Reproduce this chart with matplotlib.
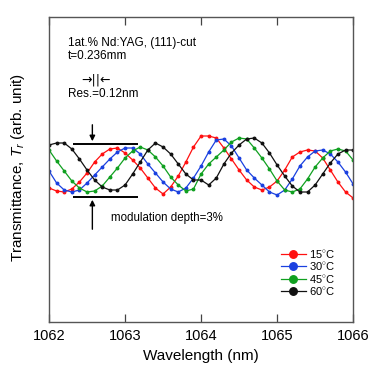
import numpy as np
import matplotlib
matplotlib.use('Agg')
import matplotlib.pyplot as plt

plt.rcParams['font.family'] = ['Liberation Sans', 'DejaVu Sans']
plt.rcParams['mathtext.fontset'] = 'custom'
plt.rcParams['mathtext.it'] = 'Liberation Sans:italic'
plt.rcParams['mathtext.rm'] = 'Liberation Sans'

# wavelength grid (nm), step 0.1
wavelength = np.round(np.arange(1062.0, 1066.0001, 0.1), 1)

# transmittance, arbitrary units
t_15 = [134, 131, 130, 133, 140, 149, 160, 168, 173, 174,
        169, 162, 154, 144, 134, 128, 135, 146, 160, 175,
        186, 186, 184, 174, 163, 152, 142, 135, 132, 135,
        141, 152, 165, 170, 172, 171, 164, 152, 140, 130, 124]
t_30 = [151, 139, 132, 130, 132, 139, 147, 155, 163, 170,
        174, 174, 168, 158, 149, 140, 133, 130, 134, 144,
        156, 170, 182, 183, 176, 164, 152, 144, 137, 130,
        127, 132, 143, 156, 165, 171, 172, 168, 160, 150, 138]
t_45 = [172, 161, 151, 141, 134, 130, 131, 136, 145, 154,
        164, 171, 175, 172, 165, 156, 145, 137, 131, 133,
        148, 158, 165, 172, 180, 184, 183, 174, 164, 153,
        141, 132, 130, 133, 143, 155, 164, 171, 173, 171, 162]
t_60 = [177, 179, 179, 173, 163, 152, 142, 135, 132, 132,
        137, 148, 160, 172, 179, 175, 168, 158, 148, 142,
        142, 137, 144, 158, 169, 177, 183, 184, 179, 169,
        157, 146, 136, 130, 130, 137, 148, 159, 168, 172, 172]

labels = ['15$^{\\circ}$C', '30$^{\\circ}$C', '45$^{\\circ}$C', '60$^{\\circ}$C']
colors = ['#ff1010', '#1a40e0', '#10a020', '#111111']

fig = plt.figure(figsize=(3.83, 3.75), dpi=100)
ax = fig.add_axes([0.128, 0.1413, 0.794, 0.8134])

for ys, lab, c in zip([t_15, t_30, t_45, t_60], labels, colors):
    ax.plot(wavelength, ys, color=c, lw=0.9, marker='o', ms=1.8, mec=c, mfc=c, label=lab)

ax.set_xlim(1062, 1066)
ax.set_ylim(0, 305)
ax.set_xticks([1062, 1063, 1064, 1065, 1066])
ax.set_yticks([])
ax.tick_params(axis='x', direction='in', top=True, length=6, width=0.9,
               pad=5, labelsize=10.5, color='#444444')
for s in ax.spines.values():
    s.set_color('#555555')
    s.set_linewidth(1.0)

ax.set_xlabel('Wavelength (nm)', fontsize=11, labelpad=4)
ax.set_ylabel('Transmittance, $T_r$ (arb. unit)', fontsize=11)
ax.yaxis.set_label_coords(-0.073, 0.505)

# modulation depth marker
ax.hlines([178, 125], 1062.32, 1063.17, color='black', lw=1.4)
ax.annotate('', xy=(1062.57, 178), xytext=(1062.57, 200),
            arrowprops=dict(arrowstyle='-|>', color='black', lw=1.0, mutation_scale=8))
ax.annotate('', xy=(1062.57, 125), xytext=(1062.57, 90),
            arrowprops=dict(arrowstyle='-|>', color='black', lw=1.0, mutation_scale=8))
ax.text(1062.82, 104, 'modulation depth=3%', fontsize=8.3, va='center')

ax.text(1062.25, 279, '1at.% Nd:YAG, (111)-cut', fontsize=8.5, va='center')
ax.text(1062.25, 266, 't=0.236mm', fontsize=8.5, va='center')
ax.text(1062.43, 242, '\u2192||\u2190', fontsize=9, va='center', family=['DejaVu Sans'])
ax.text(1062.25, 228, 'Res.=0.12nm', fontsize=8.5, va='center')

ax.legend(loc='upper left', bbox_to_anchor=(0.745, 0.262), frameon=False,
          fontsize=8, handlelength=2.2, handletextpad=0.35, labelspacing=0.05,
          borderpad=0, markerscale=3)

fig.savefig('out.png', dpi=100)
